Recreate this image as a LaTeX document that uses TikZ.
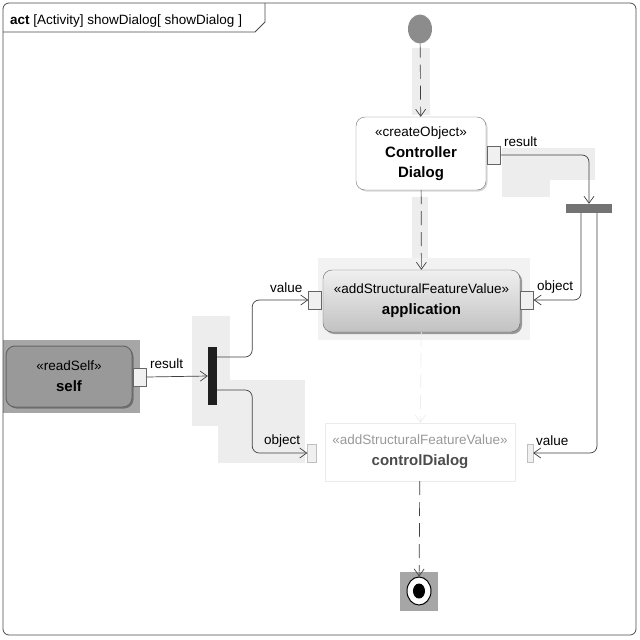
\documentclass[tikz,border=0pt]{standalone}
\usepackage{fontspec}
\setmainfont{Liberation Sans}
\usetikzlibrary{arrows.meta,shadows,shapes.geometric}
\newcommand\actname[1]{{\fontsize{15}{18}\selectfont\bfseries #1}}

\begin{document}
\begin{tikzpicture}[x=1pt,y=-1pt,
  txt/.style={font=\fontsize{13.5}{20}\selectfont},
  action/.style={txt, draw=black!55, rounded corners=9pt, align=center, inner sep=0pt},
  pinbox/.style={draw=black!60, fill=black!6, minimum width=13pt, minimum height=18pt, inner sep=0pt},
  flow/.style={draw=black!75, line width=0.7pt, -{Straight Barb[length=7pt,width=10pt]}},
  ctrl/.style={flow, dash pattern=on 14pt off 7pt},
  hl/.style={fill=black!7, draw=none},
  lbl/.style={txt, inner sep=0pt, anchor=base west},
  corner/.style={rounded corners=7pt}
]
\useasboundingbox (0,0) rectangle (640,640);
\fill[white] (0,0) rectangle (640,640);

% selection highlights behind flows
\fill[hl] (412,48) rectangle (430,115);
\fill[hl] (412,197) rectangle (428,268);
\fill[black!5] (318,258) rectangle (530,340);
\fill[hl] (502,148) rectangle (595,180);
\fill[hl] (502,180) rectangle (550,197);
\fill[hl] (192,316) rectangle (230,426);
\fill[hl] (218,380) rectangle (305,463);
\fill[black!35] (3,340) rectangle (140,413);
\fill[black!35] (400,572) rectangle (438,611);

% frame and its name tab
\draw[black!70, line width=0.8pt, rounded corners=6pt] (3,3) rectangle (636,635);
\draw[black!70, line width=0.8pt] (3,32) -- (255,32) -- (265,22) -- (265,3);
\node[lbl] (title) at (10,24) {\textbf{act} [Activity] showDialog[ showDialog ]};

% initial and final nodes
\node[ellipse, fill=black!45, minimum width=24pt, minimum height=29pt, inner sep=0pt] (init) at (420,29) {};
\node[ellipse, draw=black, line width=1pt, fill=white, minimum width=24pt, minimum height=28pt, inner sep=0pt] (final) at (419,591) {};
\node[ellipse, fill=black, minimum width=12pt, minimum height=15pt, inner sep=0pt] at (final) {};

% actions
\node[action, fill=white, minimum width=130pt, minimum height=73pt,
      drop shadow={shadow xshift=1.5pt, shadow yshift=-1.5pt, fill=black!15, opacity=1}]
  (create) at (421,153.5) {«createObject»\\[1pt]\actname{Controller}\\\actname{Dialog}};
\node[action, top color=black!6, bottom color=black!24, draw=black!60, minimum width=197pt, minimum height=62pt,
      drop shadow={shadow xshift=2pt, shadow yshift=-2pt, fill=black!40, opacity=1}]
  (app) at (421.5,301) {«addStructuralFeatureValue»\\[1pt]\actname{application}};
\node[action, draw=black!8, rounded corners=0pt, minimum width=190pt, minimum height=58pt, text=black!70]
  (ctl) at (420,452) {\textcolor{black!40}{«addStructuralFeatureValue»}\\[1pt]\actname{controlDialog}};
\node[action, fill=black!40, draw=black!60, line width=1pt, minimum width=126pt, minimum height=61pt,
      drop shadow={shadow xshift=1.5pt, shadow yshift=-1.5pt, fill=black!55, opacity=1}]
  (self) at (69,376.5) {«readSelf»\\[1pt]\actname{self}};

% pins
\node[pinbox] (createRes) at (494,155) {};
\node[pinbox] (appVal) at (315,300) {};
\node[pinbox] (appObj) at (527,300) {};
\node[pinbox, draw=black!25, minimum width=9pt] (ctlObj) at (312,453) {};
\node[pinbox, draw=black!25, minimum width=6pt] (ctlVal) at (530,453) {};
\node[pinbox] (selfRes) at (140,377) {};

% fork and join bars
\node[fill=black!55, minimum width=46pt, minimum height=9pt, inner sep=0pt] (fork) at (589,208.5) {};
\node[fill=black!88, minimum width=9pt, minimum height=58pt, inner sep=0pt] (join) at (212.5,376) {};

% control flows
\draw[ctrl] (init) -- (create);
\draw[ctrl] (create) -- (app);
\draw[ctrl, draw=black!7] (app) -- (ctl);
\draw[ctrl] (ctl) -- (final);

% object flows
\draw[flow, corner] (createRes.east) -| (fork.north);
\draw[flow, corner] ([xshift=-8pt]fork.south) |- (appObj.east);
\draw[flow, corner] ([xshift=8pt]fork.south) |- (ctlVal.east);
\draw[flow] (selfRes.east) -- (join.west);
\draw[flow, corner] ([yshift=19pt]join.east) -- ++(35,0) |- (appVal.west);
\draw[flow, corner] ([yshift=-14pt]join.east) -- ++(35,0) |- (ctlObj.west);

% pin labels
\node[lbl] at (504,146) {result};
\node[lbl] at (270,292) {value};
\node[lbl] at (537,290) {object};
\node[lbl] at (264,444) {object};
\node[lbl] at (536,445) {value};
\node[lbl] at (150,368) {result};
\end{tikzpicture}
\end{document}
